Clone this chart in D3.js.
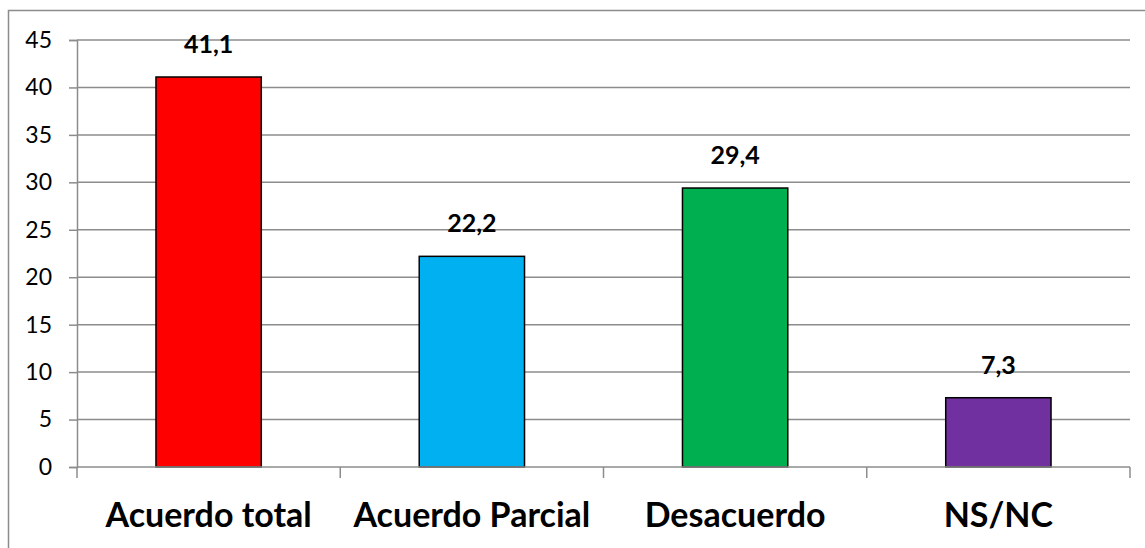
<!DOCTYPE html>
<html>
<head>
<meta charset="utf-8">
<script src="https://cdn.jsdelivr.net/npm/d3@7"></script>
<style>
  body { margin: 0; background: #fff; }
  svg { display: block; font-family: Lato, "Open Sans", sans-serif; }
</style>
</head>
<body>
<div id="chart"></div>
<script>
// -------- Data --------
const categories = ['Acuerdo total', 'Acuerdo Parcial', 'Desacuerdo', 'NS/NC'];
const values     = [41.1, 22.2, 29.4, 7.3];
const colors     = ['#ff0000', '#00b0f0', '#00b050', '#7030a0'];
const yTicks     = [0, 5, 10, 15, 20, 25, 30, 35, 40, 45];

// -------- Dimensions --------
const width = 1145, height = 548;
const plot = { left: 77, right: 1130, top: 40, bottom: 467 };

const svg = d3.select('#chart')
  .append('svg')
  .attr('width', width)
  .attr('height', height);

// outer chart border
svg.append('rect')
  .attr('x', 8.5).attr('y', 10.5)
  .attr('width', width).attr('height', height)
  .attr('fill', 'none')
  .attr('stroke', '#8c8c8c')
  .attr('stroke-width', 1.5);

// -------- Scales --------
const x = d3.scaleBand()
  .domain(categories)
  .range([plot.left, plot.right])
  .paddingInner(0.6)
  .paddingOuter(0.3);

const y = d3.scaleLinear()
  .domain([0, 45])
  .range([plot.bottom, plot.top]);

// -------- Gridlines --------
svg.append('g')
  .selectAll('line')
  .data(yTicks.filter(d => d > 0))
  .join('line')
    .attr('x1', plot.left).attr('x2', plot.right)
    .attr('y1', d => y(d)).attr('y2', d => y(d))
    .attr('stroke', '#8c8c8c')
    .attr('stroke-width', 1.5);

// -------- Y axis --------
const yAxis = svg.append('g')
  .attr('transform', `translate(${plot.left},0)`)
  .call(d3.axisLeft(y).tickValues(yTicks).tickSize(8).tickPadding(17));
yAxis.select('.domain').attr('stroke', '#8c8c8c').attr('stroke-width', 1.5);
yAxis.selectAll('.tick line').attr('stroke', '#8c8c8c').attr('stroke-width', 1.5);
yAxis.selectAll('.tick text')
  .attr('font-family', 'Lato, sans-serif')
  .attr('font-size', 23)
  .attr('fill', '#000');

// -------- Bars --------
svg.append('g')
  .selectAll('rect')
  .data(values)
  .join('rect')
    .attr('x', (d, i) => x(categories[i]))
    .attr('y', d => y(d))
    .attr('width', x.bandwidth())
    .attr('height', d => plot.bottom - y(d))
    .attr('fill', (d, i) => colors[i])
    .attr('stroke', '#000')
    .attr('stroke-width', 1.5);

// -------- X axis --------
const xTickPos = d3.range(categories.length + 1).map(i => plot.left + i * (plot.right - plot.left) / categories.length);
const xAxis = svg.append('g');
xAxis.append('line')
  .attr('x1', plot.left).attr('x2', plot.right)
  .attr('y1', plot.bottom).attr('y2', plot.bottom)
  .attr('stroke', '#8c8c8c').attr('stroke-width', 1.5);
xAxis.selectAll('line.tick')
  .data(xTickPos)
  .join('line')
    .attr('class', 'tick')
    .attr('x1', d => d).attr('x2', d => d)
    .attr('y1', plot.bottom).attr('y2', plot.bottom + 11)
    .attr('stroke', '#8c8c8c').attr('stroke-width', 1.5);

xAxis.selectAll('text')
  .data(categories)
  .join('text')
    .attr('x', d => x(d) + x.bandwidth() / 2)
    .attr('y', 527)
    .attr('text-anchor', 'middle')
    .attr('font-weight', 'bold')
    .attr('font-size', 34)
    .attr('fill', '#000')
    .text(d => d);

// -------- Value labels --------
svg.append('g')
  .selectAll('text')
  .data(values)
  .join('text')
    .attr('x', (d, i) => x(categories[i]) + x.bandwidth() / 2)
    .attr('y', d => y(d) - 24)
    .attr('text-anchor', 'middle')
    .attr('font-weight', 'bold')
    .attr('font-size', 25)
    .attr('fill', '#000')
    .text(d => d3.format('.1f')(d).replace('.', ','));
</script>
</body>
</html>
